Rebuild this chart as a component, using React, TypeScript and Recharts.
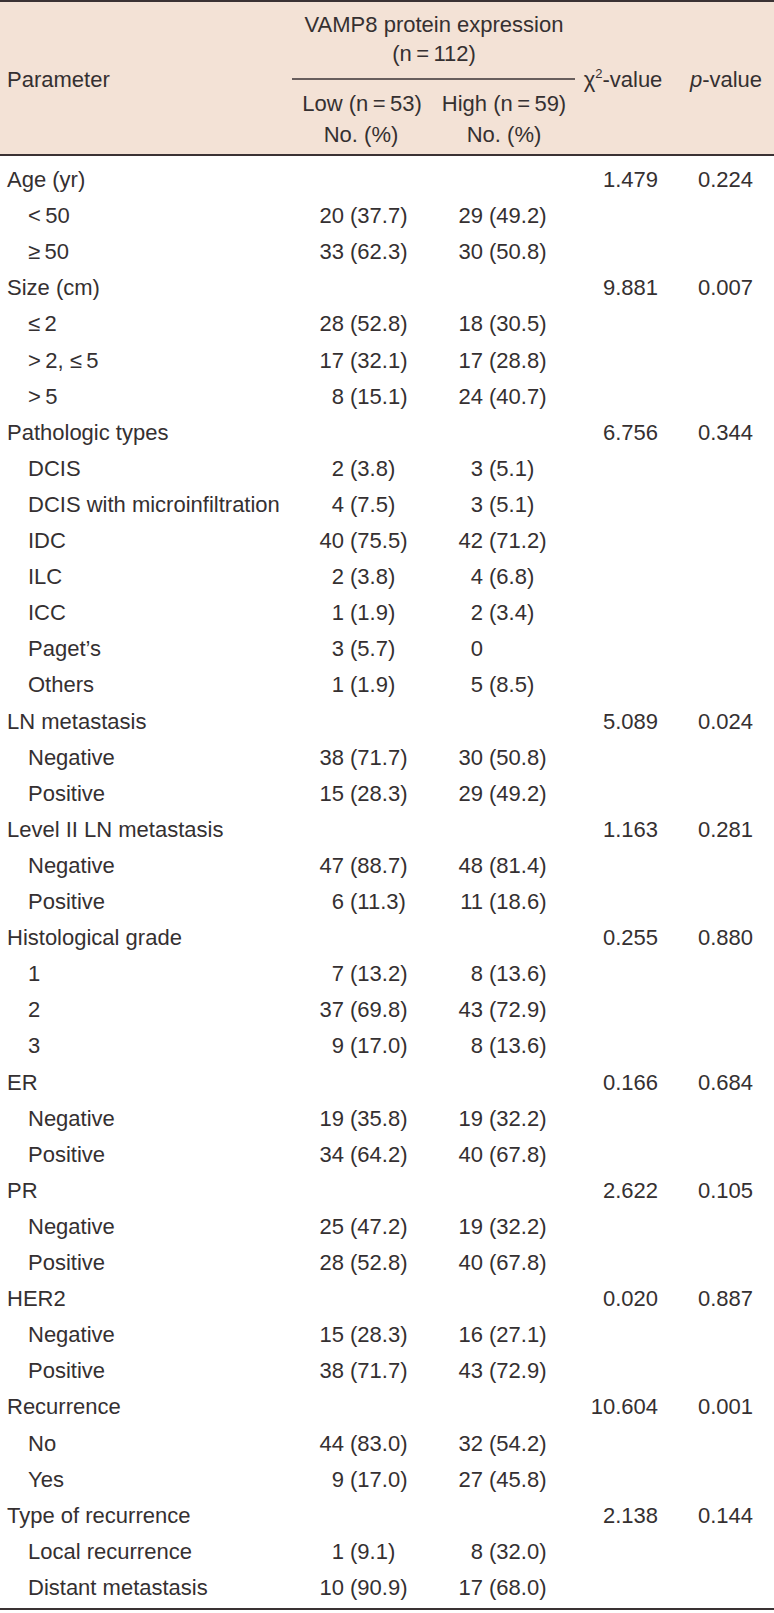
import React from 'react';
import { ComposedChart, XAxis, YAxis, Customized } from 'recharts';

// ---- data ----
const parameters: string[] = [
  'Age (yr)', '<\u200950', '\u2265\u200950',
  'Size (cm)', '\u2264\u20092', '>\u20092,  \u2264\u20095', '>\u20095',
  'Pathologic types', 'DCIS', 'DCIS with microinfiltration', 'IDC', 'ILC', 'ICC', 'Paget\u2019s', 'Others',
  'LN metastasis', 'Negative', 'Positive',
  'Level II LN metastasis', 'Negative', 'Positive',
  'Histological grade', '1', '2', '3',
  'ER', 'Negative', 'Positive',
  'PR', 'Negative', 'Positive',
  'HER2', 'Negative', 'Positive',
  'Recurrence', 'No', 'Yes',
  'Type of recurrence', 'Local recurrence', 'Distant metastasis',
];
const isSubRow: boolean[] = [
  false, true, true,
  false, true, true, true,
  false, true, true, true, true, true, true, true,
  false, true, true,
  false, true, true,
  false, true, true, true,
  false, true, true,
  false, true, true,
  false, true, true,
  false, true, true,
  false, true, true,
];
const lowCounts: (number | null)[] = [
  null, 20, 33,
  null, 28, 17, 8,
  null, 2, 4, 40, 2, 1, 3, 1,
  null, 38, 15,
  null, 47, 6,
  null, 7, 37, 9,
  null, 19, 34,
  null, 25, 28,
  null, 15, 38,
  null, 44, 9,
  null, 1, 10,
];
const lowPct: (number | null)[] = [
  null, 37.7, 62.3,
  null, 52.8, 32.1, 15.1,
  null, 3.8, 7.5, 75.5, 3.8, 1.9, 5.7, 1.9,
  null, 71.7, 28.3,
  null, 88.7, 11.3,
  null, 13.2, 69.8, 17.0,
  null, 35.8, 64.2,
  null, 47.2, 52.8,
  null, 28.3, 71.7,
  null, 83.0, 17.0,
  null, 9.1, 90.9,
];
const highCounts: (number | null)[] = [
  null, 29, 30,
  null, 18, 17, 24,
  null, 3, 3, 42, 4, 2, 0, 5,
  null, 30, 29,
  null, 48, 11,
  null, 8, 43, 8,
  null, 19, 40,
  null, 19, 40,
  null, 16, 43,
  null, 32, 27,
  null, 8, 17,
];
const highPct: (number | null)[] = [
  null, 49.2, 50.8,
  null, 30.5, 28.8, 40.7,
  null, 5.1, 5.1, 71.2, 6.8, 3.4, null, 8.5,
  null, 50.8, 49.2,
  null, 81.4, 18.6,
  null, 13.6, 72.9, 13.6,
  null, 32.2, 67.8,
  null, 32.2, 67.8,
  null, 27.1, 72.9,
  null, 54.2, 45.8,
  null, 32.0, 68.0,
];
const chiValues: (number | null)[] = [
  1.479, null, null,
  9.881, null, null, null,
  6.756, null, null, null, null, null, null, null,
  5.089, null, null,
  1.163, null, null,
  0.255, null, null, null,
  0.166, null, null,
  2.622, null, null,
  0.020, null, null,
  10.604, null, null,
  2.138, null, null,
];
const pValues: (number | null)[] = [
  0.224, null, null,
  0.007, null, null, null,
  0.344, null, null, null, null, null, null, null,
  0.024, null, null,
  0.281, null, null,
  0.880, null, null, null,
  0.684, null, null,
  0.105, null, null,
  0.887, null, null,
  0.001, null, null,
  0.144, null, null,
];

const rows = parameters.map((p, i) => ({
  id: `r${i}`,
  parameter: p,
  sub: isSubRow[i],
  lowCount: lowCounts[i],
  lowPct: lowPct[i],
  highCount: highCounts[i],
  highPct: highPct[i],
  chi: chiValues[i],
  p: pValues[i],
  dummy: 0,
}));

// ---- style / layout ----
const W = 774;
const H = 1613;
const FONT = "'Liberation Sans', Arial, Helvetica, sans-serif";
const TEXT = '#353031';
const LINE = '#3a3234';
const HEADER_BG = '#f3e2d6';
const FS = 22;

const COL = {
  param: 7,
  paramSub: 28,
  lowParen: 350,
  highParen: 489,
  chiRight: 658,
  pRight: 753,
};

const RowTick = (props: any) => {
  const { y, index } = props;
  const r = rows[index];
  if (!r) return null;
  const by = y + 8;
  return (
    <g>
      <text x={r.sub ? COL.paramSub : COL.param} y={by} fontSize={FS} fill={TEXT} textAnchor="start">
        {r.parameter}
      </text>
      {r.lowCount !== null && (
        <text x={COL.lowParen - 6} y={by} fontSize={FS} fill={TEXT} textAnchor="end">
          {String(r.lowCount)}
        </text>
      )}
      {r.lowPct !== null && (
        <text x={COL.lowParen} y={by} fontSize={FS} fill={TEXT} textAnchor="start">
          {`(${r.lowPct.toFixed(1)})`}
        </text>
      )}
      {r.highCount !== null && (
        <text x={COL.highParen - 6} y={by} fontSize={FS} fill={TEXT} textAnchor="end">
          {String(r.highCount)}
        </text>
      )}
      {r.highPct !== null && (
        <text x={COL.highParen} y={by} fontSize={FS} fill={TEXT} textAnchor="start">
          {`(${r.highPct.toFixed(1)})`}
        </text>
      )}
      {r.chi !== null && (
        <text x={COL.chiRight} y={by} fontSize={FS} fill={TEXT} textAnchor="end">
          {r.chi.toFixed(3)}
        </text>
      )}
      {r.p !== null && (
        <text x={COL.pRight} y={by} fontSize={FS} fill={TEXT} textAnchor="end">
          {r.p.toFixed(3)}
        </text>
      )}
    </g>
  );
};

const Header = () => (
  <g fontFamily={FONT}>
    <rect x={0} y={2} width={W} height={153} fill={HEADER_BG} />
    <rect x={0} y={0} width={W} height={2} fill={LINE} />
    <rect x={0} y={154} width={W} height={2} fill={LINE} />
    <rect x={0} y={1608} width={W} height={2} fill={LINE} />
    <line x1={292} x2={575} y1={79} y2={79} stroke={LINE} strokeWidth={1.5} />
    <text x={COL.param} y={87} fontSize={FS} fill={TEXT}>Parameter</text>
    <text x={434} y={32} fontSize={FS} fill={TEXT} textAnchor="middle">VAMP8 protein expression</text>
    <text x={434} y={61} fontSize={FS} fill={TEXT} textAnchor="middle">(n{'\u2009'}={'\u2009'}112)</text>
    <text x={362} y={111} fontSize={FS} fill={TEXT} textAnchor="middle">Low (n{'\u2009'}={'\u2009'}53)</text>
    <text x={361} y={142} fontSize={FS} fill={TEXT} textAnchor="middle">No. (%)</text>
    <text x={504} y={111} fontSize={FS} fill={TEXT} textAnchor="middle">High (n{'\u2009'}={'\u2009'}59)</text>
    <text x={504} y={142} fontSize={FS} fill={TEXT} textAnchor="middle">No. (%)</text>
    <text x={623} y={87} fontSize={FS} fill={TEXT} textAnchor="middle">
      {'\u03c7'}
      <tspan dy={-9} fontSize={13}>2</tspan>
      <tspan dy={9}>-value</tspan>
    </text>
    <text x={726} y={87} fontSize={FS} fill={TEXT} textAnchor="middle">
      <tspan fontStyle="italic">p</tspan>-value
    </text>
  </g>
);

export default function App() {
  return (
    <div style={{ position: 'absolute', left: 0, top: 0, width: W, height: H, background: '#ffffff' }}>
      <ComposedChart
        width={W}
        height={H}
        data={rows}
        layout="vertical"
        margin={{ top: 179, right: 0, bottom: 26, left: 0 }}
        style={{ fontFamily: FONT }}
      >
        <Customized component={<Header />} />
        <XAxis type="number" dataKey="dummy" hide domain={[0, 1]} />
        <YAxis
          type="category"
          dataKey="id"
          width={700}
          interval={0}
          axisLine={false}
          tickLine={false}
          tick={<RowTick />}
          fontFamily={FONT}
        />
      </ComposedChart>
    </div>
  );
}
